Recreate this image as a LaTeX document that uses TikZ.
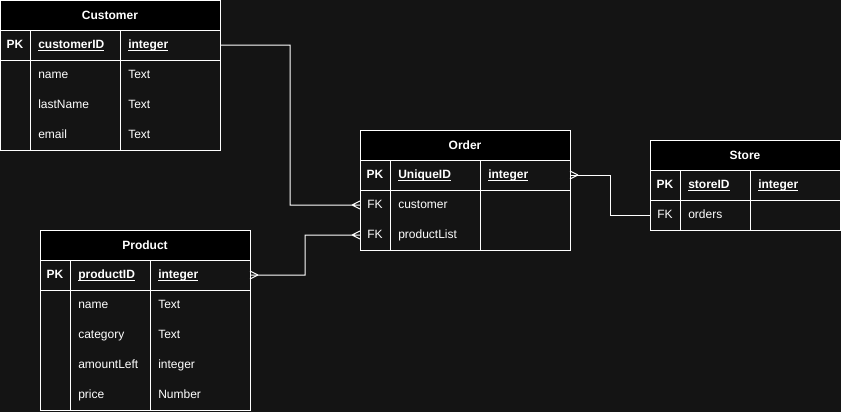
\documentclass[tikz,border=0pt]{standalone}
\usepackage{fontspec}
\setmainfont{Liberation Sans}
\usetikzlibrary{positioning}
\definecolor{bgc}{HTML}{141414}
\newcommand{\keyname}[1]{\underline{\smash{#1}}}

\begin{document}
\begin{tikzpicture}[x=0.75pt,y=-0.75pt,node distance=0pt,
  every node/.style={text=white,font=\fontsize{9}{11}\selectfont},
  tbl/.style={draw=white,line width=0.75pt,inner sep=0pt,outer sep=0pt,minimum height=22.5pt},
  head/.style={tbl,fill=black,font=\fontsize{9}{11}\selectfont\bfseries},
  key/.style={inner sep=0pt,text height=6.5pt,text depth=2pt,font=\fontsize{9}{11}\selectfont\bfseries},
  fld/.style={anchor=west,inner sep=0pt,text height=6.5pt,text depth=2pt},
  link/.style={draw=white,line width=0.75pt}]
  \useasboundingbox[fill=bgc] (0,0) rectangle (841,412);

  % Customer
  \node[head,minimum width=165pt,anchor=north west] (cust) at (0,0) {Customer};
  \node[tbl,minimum width=165pt,below=of cust] (custpk) {};
  \node[tbl,minimum width=165pt,minimum height=67.5pt,below=of custpk] (custbody) {};
  \draw[link] ([xshift=22.5pt]custpk.north west) -- ([xshift=22.5pt]custbody.south west)
              ([xshift=90pt]custpk.north west) -- ([xshift=90pt]custbody.south west);
  \node[key] (cpk) at (15,45) {PK};
  \node[key,fld] (cid) at (38,45) {\keyname{customerID}};
  \node[key,fld] (cidt) at (128,45) {\keyname{integer}};
  \node[fld] (cname) at (38,75) {name};
  \node[fld] (cnamet) at (128,75) {Text};
  \node[fld] (clast) at (38,105) {lastName};
  \node[fld] (clastt) at (128,105) {Text};
  \node[fld] (cmail) at (38,135) {email};
  \node[fld] (cmailt) at (128,135) {Text};

  % Order
  \node[head,minimum width=157.5pt,anchor=north west] (ord) at (360,130) {Order};
  \node[tbl,minimum width=157.5pt,below=of ord] (ordpk) {};
  \node[tbl,minimum width=157.5pt,minimum height=45pt,below=of ordpk] (ordbody) {};
  \draw[link] ([xshift=22.5pt]ordpk.north west) -- ([xshift=22.5pt]ordbody.south west)
              ([xshift=90pt]ordpk.north west) -- ([xshift=90pt]ordbody.south west);
  \node[key] (opk) at (375,175) {PK};
  \node[key,fld] (oid) at (398,175) {\keyname{UniqueID}};
  \node[key,fld] (oidt) at (488,175) {\keyname{integer}};
  \node[fld,anchor=center] (ofk1) at (375,205) {FK};
  \node[fld] (ocust) at (398,205) {customer};
  \node[fld,anchor=center] (ofk2) at (375,235) {FK};
  \node[fld] (oprod) at (398,235) {productList};

  % Store
  \node[head,minimum width=142.5pt,anchor=north west] (st) at (650,140) {Store};
  \node[tbl,minimum width=142.5pt,below=of st] (stpk) {};
  \node[tbl,minimum width=142.5pt,below=of stpk] (stbody) {};
  \draw[link] ([xshift=22.5pt]stpk.north west) -- ([xshift=22.5pt]stbody.south west)
              ([xshift=75pt]stpk.north west) -- ([xshift=75pt]stbody.south west);
  \node[key] (spk) at (665,185) {PK};
  \node[key,fld] (sid) at (688,185) {\keyname{storeID}};
  \node[key,fld] (sidt) at (758,185) {\keyname{integer}};
  \node[fld,anchor=center] (sfk) at (665,215) {FK};
  \node[fld] (sord) at (688,215) {orders};

  % Product
  \node[head,minimum width=157.5pt,anchor=north west] (prod) at (40,230) {Product};
  \node[tbl,minimum width=157.5pt,below=of prod] (prodpk) {};
  \node[tbl,minimum width=157.5pt,minimum height=90pt,below=of prodpk] (prodbody) {};
  \draw[link] ([xshift=22.5pt]prodpk.north west) -- ([xshift=22.5pt]prodbody.south west)
              ([xshift=82.5pt]prodpk.north west) -- ([xshift=82.5pt]prodbody.south west);
  \node[key] (ppk) at (55,275) {PK};
  \node[key,fld] (pid) at (78,275) {\keyname{productID}};
  \node[key,fld] (pidt) at (158,275) {\keyname{integer}};
  \node[fld] (pname) at (78,305) {name};
  \node[fld] (pnamet) at (158,305) {Text};
  \node[fld] (pcat) at (78,335) {category};
  \node[fld] (pcatt) at (158,335) {Text};
  \node[fld] (pamt) at (78,365) {amountLeft};
  \node[fld] (pamtt) at (158,365) {integer};
  \node[fld] (pprice) at (78,395) {price};
  \node[fld] (ppricet) at (158,395) {Number};

  % relations
  \draw[link] (custpk.east) -- ++(70,0) |- (ordbody.west |- ofk1)
              ++(-8,0) -- ++(8,-4) ++(-8,4) -- ++(8,4);
  \draw[link] (prodpk.east) -- ++(55,0) |- (ordbody.west |- ofk2)
              ++(-8,0) -- ++(8,-4) ++(-8,4) -- ++(8,4);
  \draw[link] (prodpk.east) ++(8,0) -- ++(-8,-4) ++(8,4) -- ++(-8,4);
  \draw[link] (ordpk.east) -- ++(40,0) |- (stbody.west);
  \draw[link] (ordpk.east) ++(8,0) -- ++(-8,-4) ++(8,4) -- ++(-8,4);
\end{tikzpicture}
\end{document}
